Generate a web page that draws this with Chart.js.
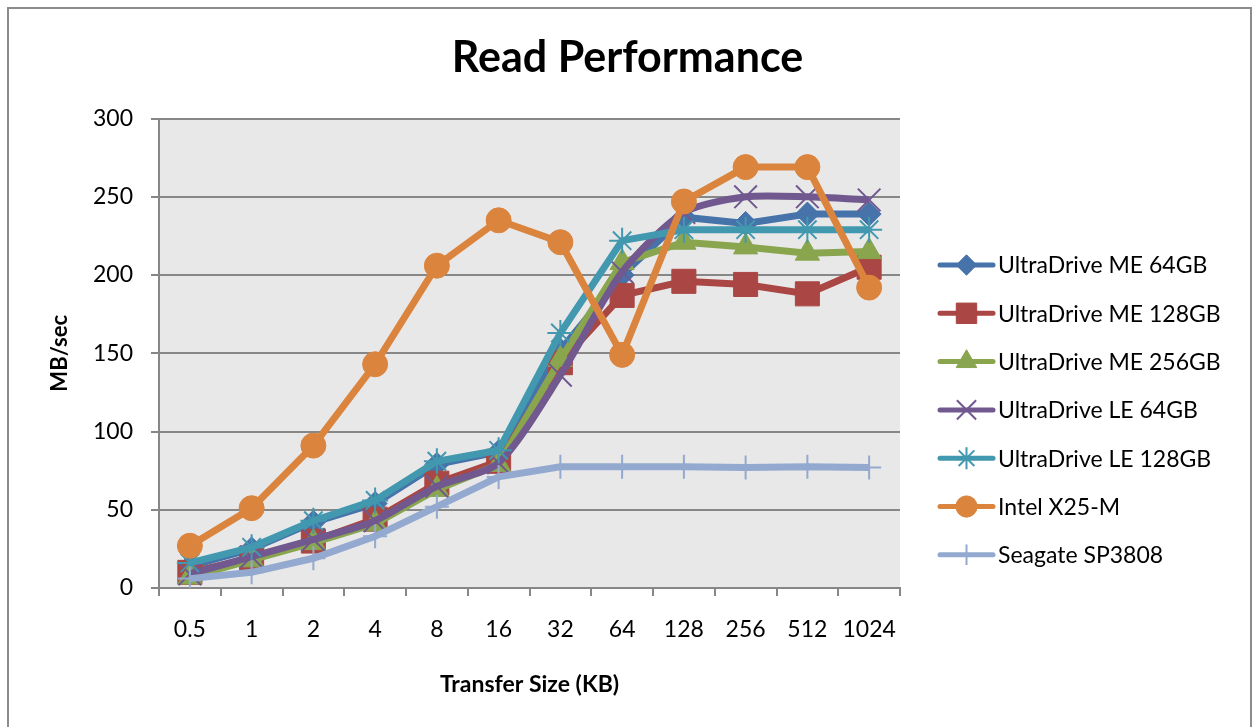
<!DOCTYPE html>
<html>
<head>
<meta charset="utf-8">
<script src="https://cdn.jsdelivr.net/npm/chart.js@4"></script>
<style>
  html, body { margin: 0; padding: 0; background: #ffffff; overflow: hidden; }
  #frame {
    position: absolute; left: 7px; top: 7px; width: 1245px; height: 760px;
    border: 2px solid #8c8c8c; box-sizing: border-box;
  }
  #chart { position: absolute; left: 0; top: 0; }
</style>
</head>
<body>
<div id="frame"></div>
<canvas id="chart" width="1255" height="727"></canvas>
<script>
// Transfer sizes (KB) and read throughput in MB/sec
const sizes = ['0.5', '1', '2', '4', '8', '16', '32', '64', '128', '256', '512', '1024'];
const ultraMe64 = [14, 25, 42, 54, 79, 87, 152, 200, 237, 233, 239, 239];
const ultraMe128 = [10, 19, 30, 44, 67, 81, 144, 187, 196, 194, 188, 205];
const ultraMe256 = [7, 18, 29, 41, 63, 79, 146, 208, 221, 218, 214, 215];
const ultraLe64 = [9, 20, 31, 43, 65, 80, 136, 202, 240, 250, 250, 248];
const ultraLe128 = [16, 26, 43, 56, 81, 88, 163, 222, 229, 229, 229, 229];
const intelX25 = [27, 51, 91, 143, 206, 235, 221, 149, 247, 269, 269, 192];
const seagate = [6, 10, 19, 33, 52, 71, 77.5, 77.5, 77.5, 77, 77.5, 77];
const yTicks = [0, 50, 100, 150, 200, 250, 300];

const FONT = 'Lato, "Open Sans", sans-serif';

const series = [
    { label: 'UltraDrive ME 64GB', data: ultraMe64, color: '#4673a9', style: 'rectRot', r: 12, bw: 1 },
    { label: 'UltraDrive ME 128GB', data: ultraMe128, color: '#aa4643', style: 'rect', r: 17, bw: 1 },
    { label: 'UltraDrive ME 256GB', data: ultraMe256, color: '#89a54e', style: 'triangle', r: 14, bw: 1 },
    { label: 'UltraDrive LE 64GB', data: ultraLe64, color: '#71588f', style: 'crossRot', r: 16, bw: 2, tension: 0.25 },
    { label: 'UltraDrive LE 128GB', data: ultraLe128, color: '#4198af', style: 'star', r: 13, bw: 2 },
    { label: 'Intel X25-M', data: intelX25, color: '#db843d', style: 'circle', r: 12.5, bw: 1 },
    { label: 'Seagate SP3808', data: seagate, color: '#93a9cf', style: 'cross', r: 12, bw: 2 }
];

// grey plot background behind the lines
const plotBackground = {
    id: 'plotBackground',
    beforeDraw(chart) {
        const { ctx, chartArea } = chart;
        ctx.save();
        ctx.fillStyle = '#e8e8e8';
        ctx.fillRect(chartArea.left, chartArea.top, chartArea.right - chartArea.left, chartArea.bottom - chartArea.top);
        ctx.restore();
    }
};

// Excel style legend: line sample with the marker in the middle
const lineLegend = {
    id: 'lineLegend',
    afterDraw(chart) {
        const ctx = chart.ctx;
        const x0 = 940, x1 = 993, top = 265, step = 48.3;
        ctx.save();
        series.forEach((s, i) => {
            const y = top + i * step;
            ctx.strokeStyle = s.color;
            ctx.lineWidth = 5;
            ctx.lineCap = 'round';
            ctx.beginPath();
            ctx.moveTo(x0, y);
            ctx.lineTo(x1, y);
            ctx.stroke();
            ctx.lineCap = 'butt';
            ctx.fillStyle = s.color;
            ctx.lineWidth = s.bw;
            Chart.helpers.drawPoint(ctx, { pointStyle: s.style, radius: s.r * 0.85, borderWidth: s.bw, rotation: 0 }, (x0 + x1) / 2, y);
            ctx.fillStyle = '#000000';
            ctx.font = '23px ' + FONT;
            ctx.textBaseline = 'middle';
            ctx.textAlign = 'left';
            ctx.fillText(s.label, 998, y + 1);
        });
        ctx.restore();
    }
};

const ctx = document.getElementById('chart').getContext('2d');
new Chart(ctx, {
    type: 'line',
    data: {
        labels: sizes,
        datasets: series.map((s, i) => ({
            label: s.label,
            data: s.data,
            yAxisID: 'y',
            borderColor: s.color,
            backgroundColor: s.color,
            borderWidth: 7,
            tension: s.tension || 0,
            pointStyle: s.style,
            pointRadius: s.r,
            pointBackgroundColor: s.color,
            pointBorderColor: s.color,
            pointBorderWidth: s.bw,
            order: series.length - i
        }))
    },
    options: {
        responsive: false,
        animation: false,
        layout: { padding: 0 },
        plugins: {
            legend: { display: false },
            tooltip: { enabled: false },
            title: {
                display: true,
                text: 'Read Performance',
                color: '#000000',
                font: { family: FONT, size: 43, weight: 'bold', lineHeight: 1.2 },
                padding: { top: 32, bottom: 35 }
            }
        },
        scales: {
            x: {
                offset: true,
                grid: {
                    offset: true,
                    drawOnChartArea: false,
                    drawTicks: true,
                    tickLength: 8,
                    color: '#878787',
                    lineWidth: 2
                },
                border: { display: true, color: '#878787', width: 2 },
                ticks: {
                    color: '#000000',
                    padding: 20,
                    maxRotation: 0,
                    autoSkip: false,
                    font: { family: FONT, size: 23 }
                },
                title: {
                    display: true,
                    text: 'Transfer Size (KB)',
                    color: '#000000',
                    font: { family: FONT, size: 23, weight: 'bold', lineHeight: 1.2 },
                    padding: { top: 0, bottom: 29 }
                },
                afterFit(scale) { scale.height = 139; }
            },
            y: {
                min: 0,
                max: 300,
                afterBuildTicks(scale) { scale.ticks = yTicks.map(v => ({ value: v })); },
                grid: {
                    color: '#878787',
                    lineWidth: 2,
                    drawTicks: true,
                    tickLength: 8
                },
                border: { display: true, color: '#878787', width: 2 },
                ticks: {
                    color: '#000000',
                    padding: 18,
                    font: { family: FONT, size: 23 }
                },
                title: {
                    display: true,
                    text: 'MB/sec',
                    color: '#000000',
                    font: { family: FONT, size: 22, weight: 'bold', lineHeight: 1.2 },
                    padding: { top: 47, bottom: 0 }
                },
                afterFit(scale) { scale.width = 159; }
            },
            // empty right-hand axis that keeps room for the legend
            legendSpace: {
                position: 'right',
                display: true,
                grid: { display: false },
                border: { display: false },
                ticks: { display: false },
                afterFit(scale) { scale.width = 355; }
            }
        }
    },
    plugins: [plotBackground, lineLegend]
});
</script>
</body>
</html>
